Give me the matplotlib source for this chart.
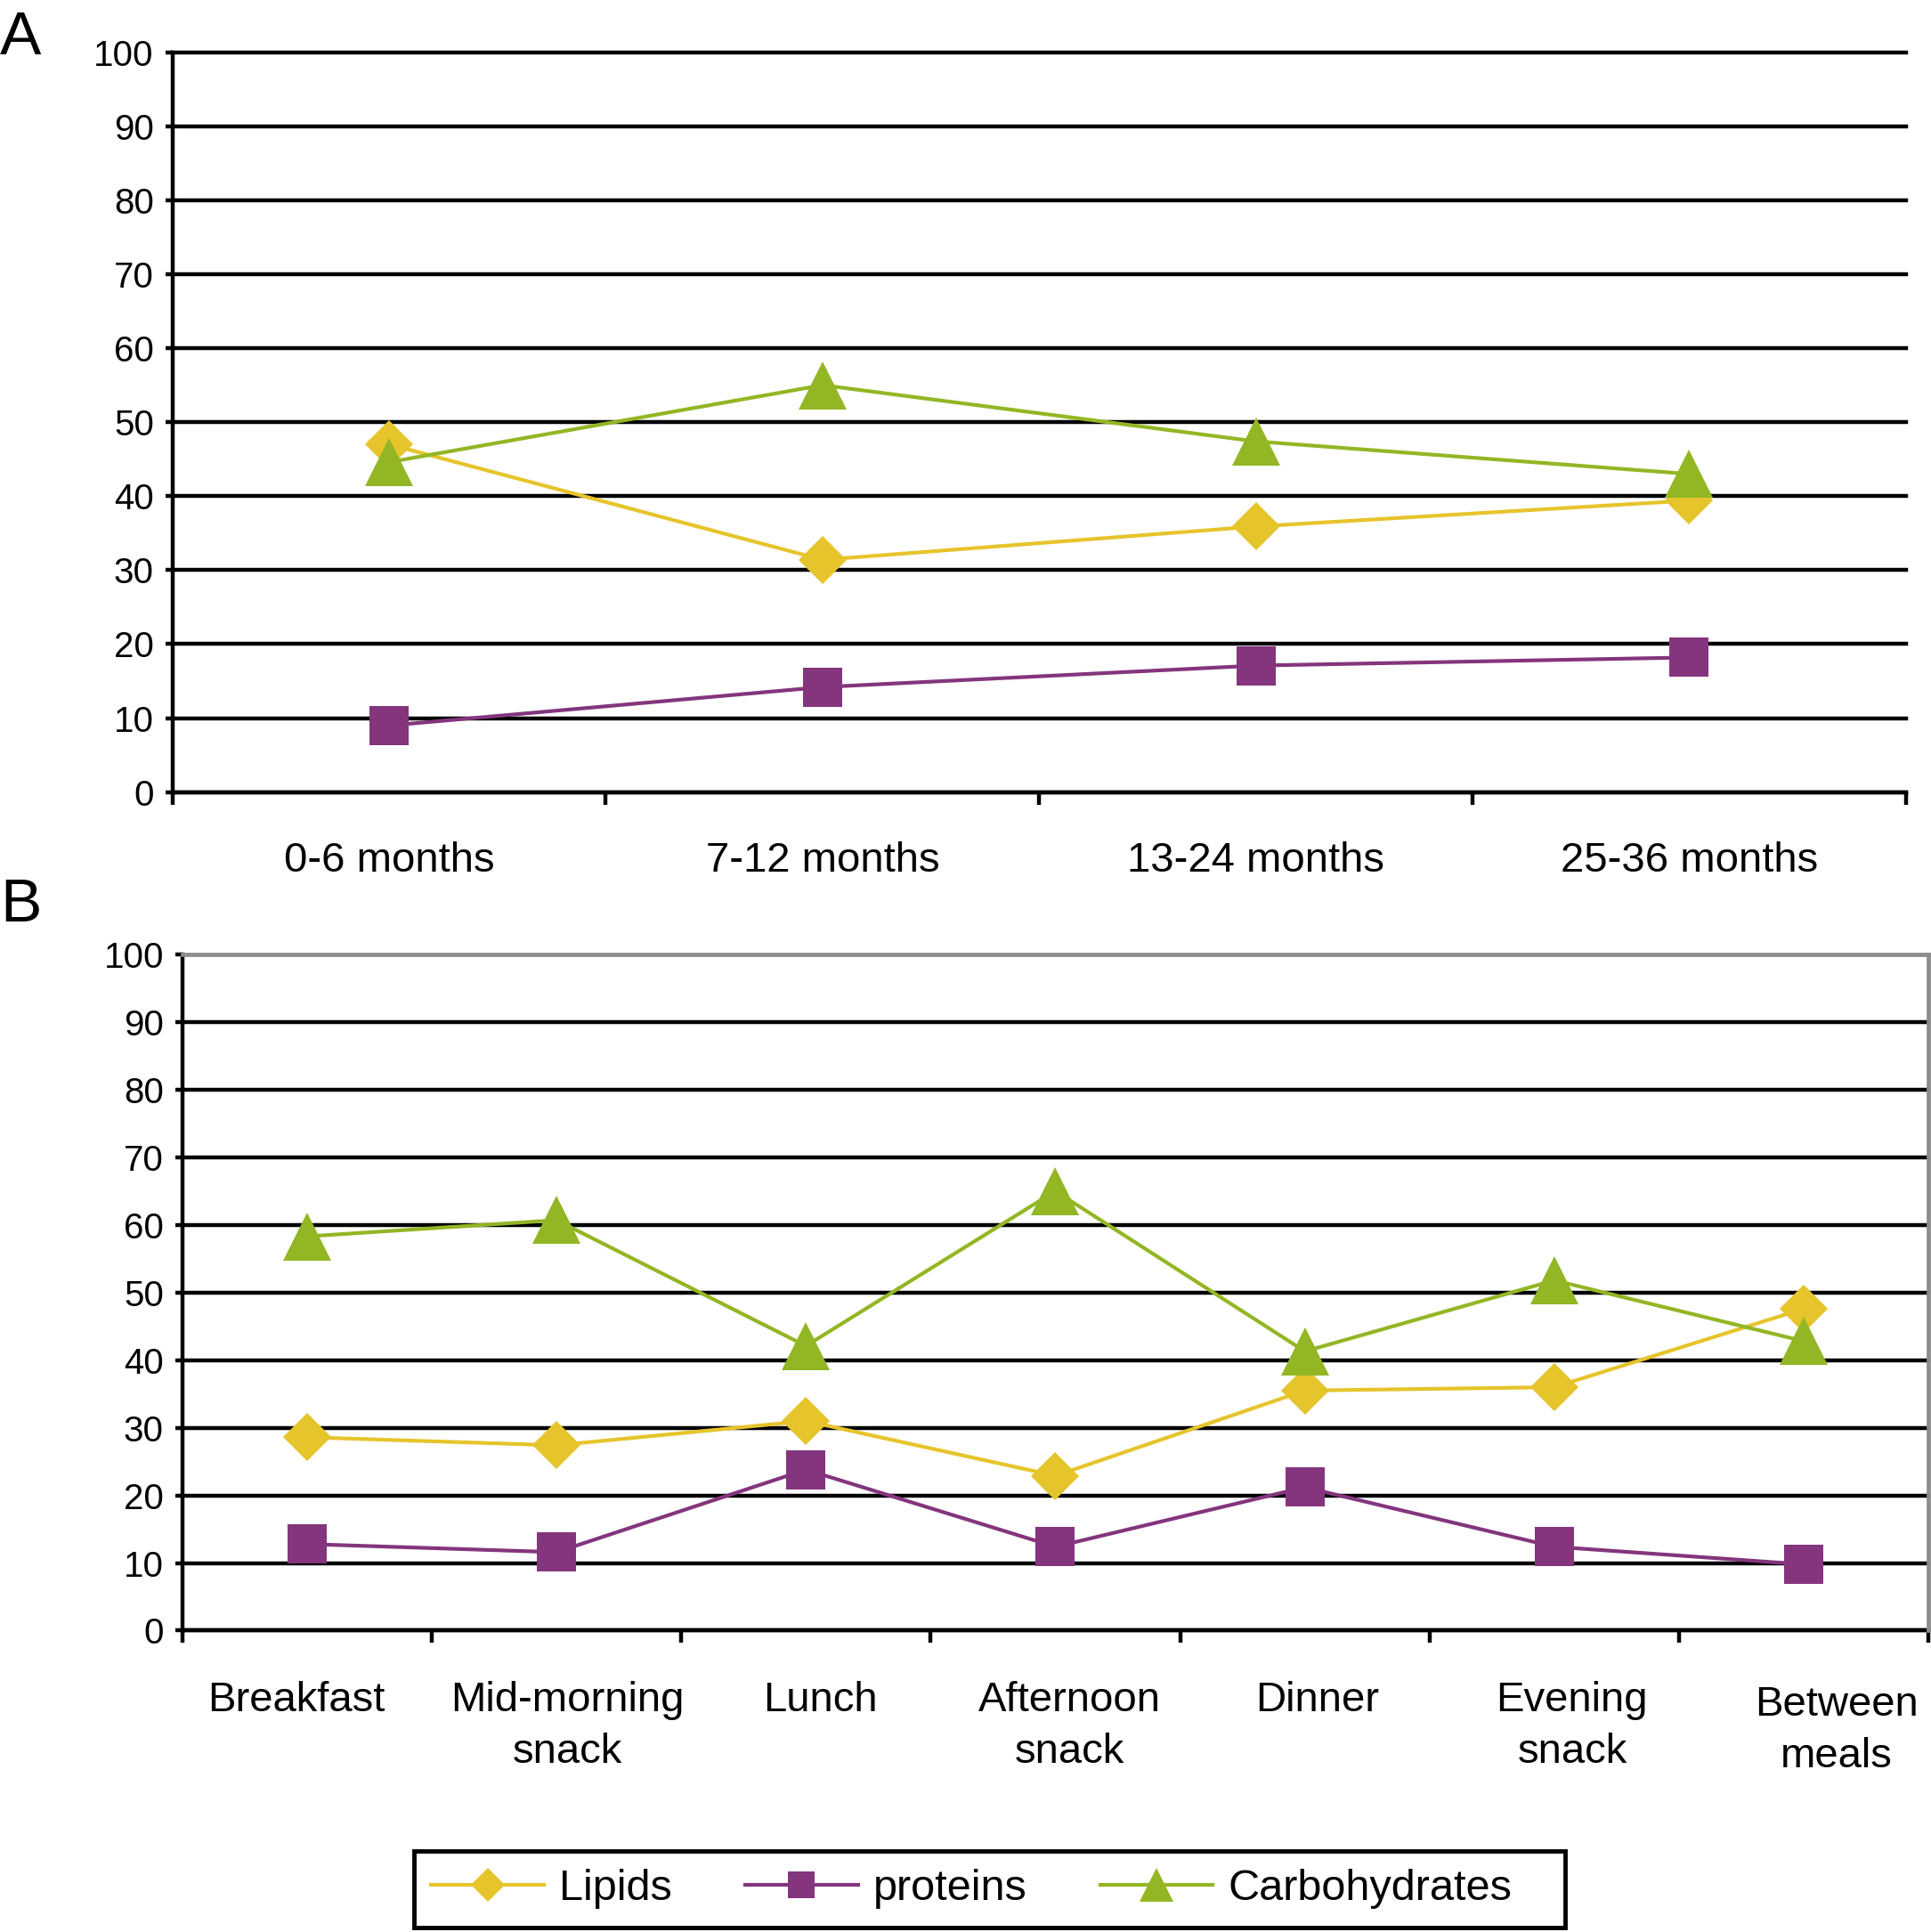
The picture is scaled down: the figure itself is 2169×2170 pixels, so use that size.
import matplotlib
matplotlib.use("Agg")
import matplotlib.pyplot as plt
from matplotlib.lines import Line2D
from matplotlib.patches import Rectangle
from matplotlib.transforms import ScaledTranslation

plt.rcParams["font.family"] = ["Liberation Sans", "DejaVu Sans"]

# panel A: by age group
age_groups = ["0-6 months", "7-12 months", "13-24 months", "25-36 months"]
lipids_age = [47.0, 31.4, 35.9, 39.4]
proteins_age = [9.0, 14.2, 17.1, 18.2]
carbs_age = [44.6, 55.0, 47.4, 43.0]

# panel B: by meal
meals = ["Breakfast", "Mid-morning\nsnack", "Lunch", "Afternoon\nsnack",
         "Dinner", "Evening\nsnack", "Between\nmeals"]
lipids_meal = [28.6, 27.4, 31.0, 22.9, 35.5, 36.0, 47.6]
proteins_meal = [12.8, 11.6, 23.8, 12.4, 21.2, 12.4, 9.8]
carbs_meal = [58.3, 60.7, 42.1, 65.0, 41.3, 51.8, 42.8]

C_LIP = "#E6C42B"
C_PRO = "#84357D"
C_CARB = "#93B624"

GRID_LW = 3.2
LINE_LW = 3.0
styles = {
    "Lipids": dict(color=C_LIP, marker="D", ms=27),
    "proteins": dict(color=C_PRO, marker="s", ms=31),
    "Carbohydrates": dict(color=C_CARB, marker="^", ms=39),
}


def draw_panel(ax, cats, series, label_pad):
    n = len(cats)
    x = list(range(n))
    for name, vals in series:
        st = styles[name]
        ax.plot(x, vals, color=st["color"], lw=LINE_LW, marker=st["marker"],
                ms=st["ms"], mfc=st["color"], mec=st["color"], mew=0,
                zorder=3, clip_on=False)
    ax.set_xlim(-0.5, n - 0.5)
    ax.set_ylim(0, 100)
    ax.set_yticks(range(0, 101, 10))
    ax.grid(axis="y", color="black", lw=GRID_LW)
    for gl in ax.yaxis.get_gridlines():
        gl.set_clip_on(False)
    ax.set_axisbelow(True)
    ax.set_xticks([i - 0.5 for i in range(n + 1)])
    ax.set_xticklabels([])
    ax.set_xticks(x, minor=True)
    ax.set_xticklabels(cats, minor=True, fontsize=34, linespacing=1.4)
    ax.tick_params(axis="x", which="major", length=10, width=GRID_LW,
                   direction="out")
    ax.tick_params(axis="x", which="minor", length=0, pad=label_pad)
    ax.tick_params(axis="y", length=6, width=GRID_LW, pad=9, labelsize=29)
    for s in ["left", "bottom"]:
        ax.spines[s].set_linewidth(GRID_LW)
        ax.spines[s].set_color("black")


fig = plt.figure(figsize=(21.69, 21.70), dpi=100)

axA = fig.add_axes([0.0893, 0.590, 0.8977, 0.383])
draw_panel(axA, age_groups,
           [("Lipids", lipids_age), ("proteins", proteins_age),
            ("Carbohydrates", carbs_age)], 40)
axA.spines["top"].set_visible(False)
axA.spines["right"].set_visible(False)

axB = fig.add_axes([0.0944, 0.156, 0.9043, 0.350])
draw_panel(axB, meals,
           [("Lipids", lipids_meal), ("proteins", proteins_meal),
            ("Carbohydrates", carbs_meal)], 41)
for s in ["top", "right"]:
    axB.spines[s].set_color("#8C8C8C")
    axB.spines[s].set_linewidth(3.4)
    axB.spines[s].set_zorder(2.6)
# the 100 gridline is replaced by the grey frame in panel B
axB.yaxis.get_gridlines()[-1].set_visible(False)

# the meal labels sit a little right of the slot centres in the original
offsets = [-0.12, 0.12, 0.16, 0.16, 0.14, 0.2, 0.37]
for lbl, dx in zip(axB.get_xticklabels(minor=True), offsets):
    dy = -0.05 if dx > 0.3 else 0
    lbl.set_transform(lbl.get_transform() +
                      ScaledTranslation(dx, dy, fig.dpi_scale_trans))

fig.text(0.0, 0.995, "A", fontsize=50, va="top", ha="left")
fig.text(0.0, 0.546, "B", fontsize=50, va="top", ha="left")

# legend box, drawn separately so it can be wider than its content
fig.patches.append(Rectangle((0.2144, 0.0025), 0.5961, 0.0395,
                             transform=fig.transFigure, fill=False,
                             edgecolor="black", lw=3.5, zorder=5))
handles = [Line2D([], [], color=styles[k]["color"], lw=LINE_LW,
                  marker=styles[k]["marker"], ms=styles[k]["ms"] * 0.7,
                  mew=0, label=k) for k in styles]
fig.legend(handles=handles, loc="center left",
           bbox_to_anchor=(0.2233, 0.0222), ncol=3, fontsize=35,
           frameon=False, handlelength=2.6, handletextpad=0.35,
           columnspacing=1.7, borderpad=0, borderaxespad=0)

fig.savefig("out.png", dpi=100)
